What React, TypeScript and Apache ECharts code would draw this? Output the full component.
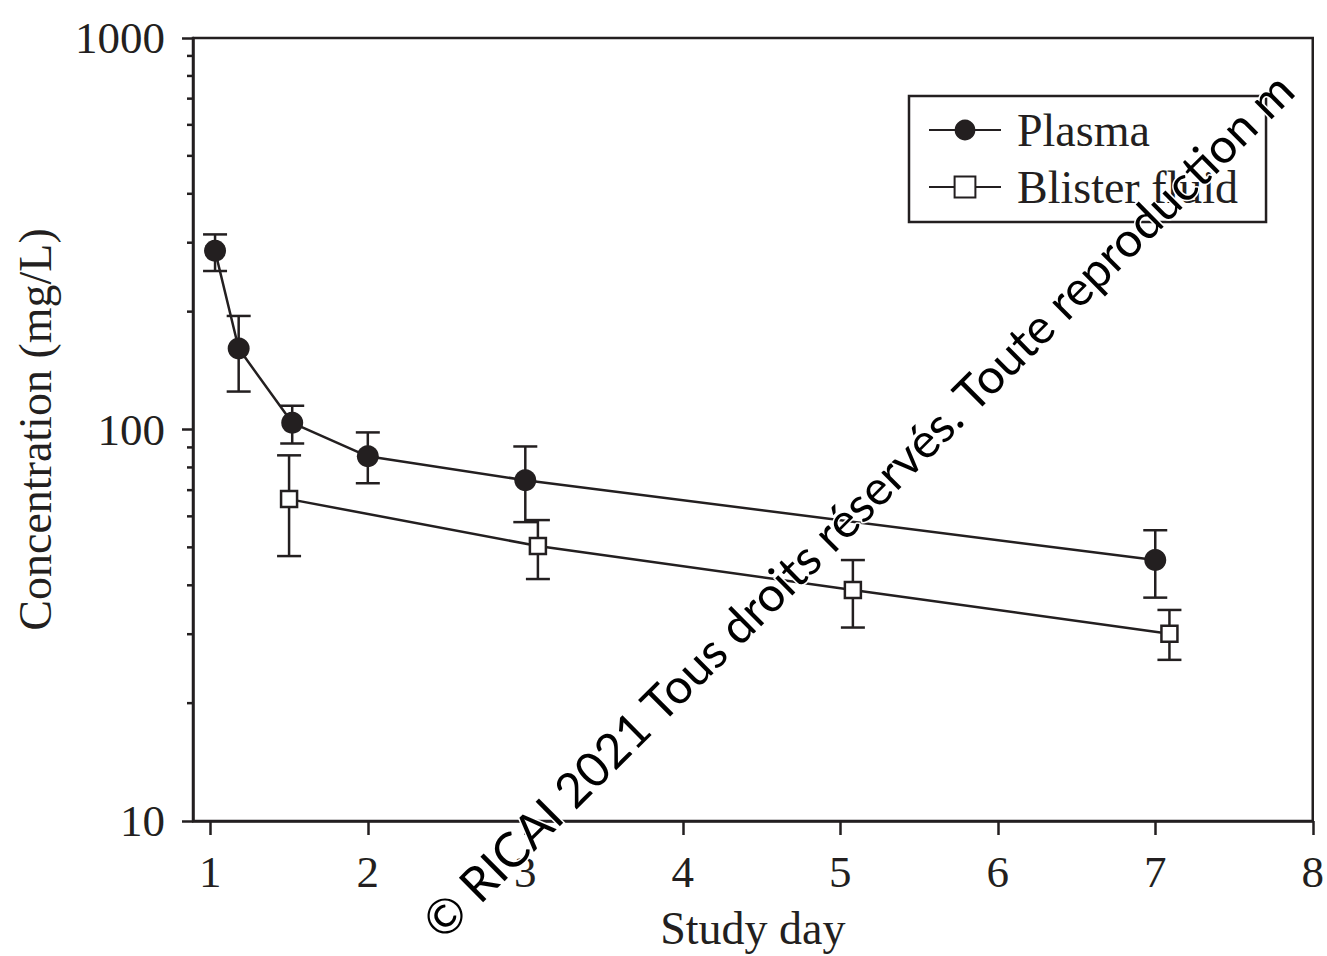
import React, { useEffect, useRef } from "react";
import * as echarts from "echarts";

const INK = "#231f20";
const SERIF = "'Liberation Serif', 'Times New Roman', serif";

// Study day (x) and concentration (mg/L)
const plasmaX = [1.03, 1.18, 1.52, 2.0, 3.0, 7.0];
const plasmaMean = [286, 161, 104, 85.4, 74.2, 46.4];
const plasmaLow = [254, 125, 92.1, 72.9, 58.0, 37.2];
const plasmaHigh = [315, 195, 115, 98.3, 90.5, 55.3];

const blisterX = [1.5, 3.08, 5.08, 7.09];
const blisterMean = [66.4, 50.4, 38.9, 30.1];
const blisterLow = [47.5, 41.5, 31.2, 25.8];
const blisterHigh = [85.9, 58.7, 46.4, 34.6];

const xTicks = [1, 2, 3, 4, 5, 6, 7, 8];
const X_MIN = 0.89;
const X_MAX = 8;
const yMajorTicks = [10, 100, 1000];
const yMinorTicks = [20, 30, 40, 50, 60, 70, 80, 90, 200, 300, 400, 500, 600, 700, 800, 900];

const watermark = "© RICAI 2021 Tous droits réservés. Toute reproduction m";

function errorBarSeries(name: string, xs: number[], lows: number[], highs: number[]) {
  return {
    type: "custom",
    name: name + " error",
    z: 1,
    silent: true,
    data: xs.map((x, i) => [x, lows[i], highs[i]]),
    renderItem: (params: any, api: any) => {
      const x = api.value(0);
      const lo = api.coord([x, api.value(1)]);
      const hi = api.coord([x, api.value(2)]);
      const hw = 12;
      const style = { stroke: INK, lineWidth: 2.5 };
      return {
        type: "group",
        children: [
          { type: "line", shape: { x1: lo[0], y1: lo[1], x2: hi[0], y2: hi[1] }, style },
          { type: "line", shape: { x1: lo[0] - hw, y1: lo[1], x2: lo[0] + hw, y2: lo[1] }, style },
          { type: "line", shape: { x1: hi[0] - hw, y1: hi[1], x2: hi[0] + hw, y2: hi[1] }, style },
        ],
      };
    },
  };
}

export default function App() {
  const ref = useRef<HTMLDivElement>(null);

  useEffect(() => {
    if (!ref.current) return;
    const chart = echarts.init(ref.current, null, { renderer: "svg" });
    const axisLineStyle = { color: INK, width: 2.5 };
    const option: any = {
      animation: false,
      backgroundColor: "#ffffff",
      grid: {
        left: 193,
        top: 38,
        width: 1123,
        height: 786,
        show: true,
        borderColor: INK,
        borderWidth: 2.5,
        backgroundColor: "transparent",
      },
      legend: {
        left: 909,
        top: 96,
        orient: "vertical",
        padding: [11, 28, 12, 19],
        borderColor: INK,
        borderWidth: 2.5,
        itemWidth: 72,
        itemHeight: 26,
        itemGap: 11,
        textStyle: {
          fontFamily: SERIF,
          fontSize: 46,
          color: INK,
          lineHeight: 46,
          padding: [0, 0, 0, 11],
        },
        data: ["Plasma", "Blister fluid"],
      },
      xAxis: {
        type: "value",
        min: X_MIN,
        max: X_MAX,
        name: "Study day",
        nameLocation: "middle",
        nameGap: 84,
        nameTextStyle: { fontFamily: SERIF, fontSize: 46, color: INK },
        axisLine: { show: true, lineStyle: axisLineStyle },
        axisTick: { show: true, inside: false, length: 14, lineStyle: axisLineStyle, customValues: xTicks },
        axisLabel: { fontFamily: SERIF, fontSize: 45, color: INK, margin: 28, customValues: xTicks },
        splitLine: { show: false },
      },
      yAxis: {
        type: "log",
        logBase: 10,
        min: 10,
        max: 1000,
        position: "left",
        name: "Concentration (mg/L)",
        nameLocation: "middle",
        nameGap: 135,
        nameTextStyle: { fontFamily: SERIF, fontSize: 46, color: INK },
        axisLine: { show: true, lineStyle: axisLineStyle },
        axisTick: { show: true, inside: false, length: 11, lineStyle: axisLineStyle, customValues: yMajorTicks },
        axisLabel: {
          fontFamily: SERIF,
          fontSize: 45,
          color: INK,
          margin: 28,
          customValues: yMajorTicks,
          formatter: (v: number) => String(Math.round(v)),
        },
        splitLine: { show: false },
      },
      series: [
        errorBarSeries("Plasma", plasmaX, plasmaLow, plasmaHigh),
        errorBarSeries("Blister fluid", blisterX, blisterLow, blisterHigh),
        {
          type: "custom",
          name: "minor ticks",
          silent: true,
          clip: false,
          z: 1,
          data: yMinorTicks.map((v) => [X_MIN, v]),
          renderItem: (params: any, api: any) => {
            const p = api.coord([api.value(0), api.value(1)]);
            return {
              type: "line",
              shape: { x1: p[0] - 6, y1: p[1], x2: p[0], y2: p[1] },
              style: { stroke: INK, lineWidth: 2.5 },
            };
          },
        },
        {
          type: "line",
          name: "Plasma",
          z: 3,
          data: plasmaX.map((x, i) => [x, plasmaMean[i]]),
          symbol: "circle",
          symbolSize: 22,
          itemStyle: { color: INK, borderColor: INK, borderWidth: 0 },
          lineStyle: { color: INK, width: 2.5 },
        },
        {
          type: "line",
          name: "Blister fluid",
          z: 3,
          data: blisterX.map((x, i) => [x, blisterMean[i]]),
          symbol: "rect",
          symbolSize: 16,
          itemStyle: { color: "#ffffff", borderColor: INK, borderWidth: 2.5 },
          lineStyle: { color: INK, width: 2.5 },
        },
      ],
      graphic: [
        {
          type: "text",
          x: 430,
          y: 929,
          rotation: (44.8 * Math.PI) / 180,
          z: 100,
          silent: true,
          style: {
            text: watermark,
            fontFamily: "Lato, 'Open Sans', sans-serif",
            fontSize: 48,
            fill: "#000000",
            stroke: "#ffffff",
            lineWidth: 3,
            textAlign: "left",
            textVerticalAlign: "middle",
          },
        },
      ],
    };
    chart.setOption(option);
    return () => chart.dispose();
  }, []);

  return (
    <div
      ref={ref}
      style={{ position: "absolute", left: 0, top: 0, width: 1327, height: 956 }}
    />
  );
}
